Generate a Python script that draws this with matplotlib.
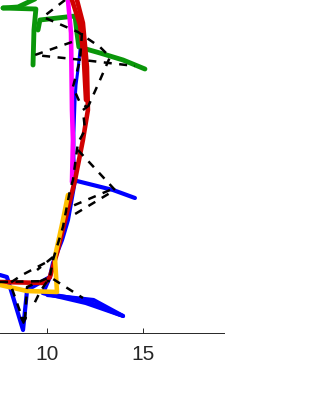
import matplotlib
matplotlib.use("Agg")
from matplotlib import pyplot as plt

plt.rcParams['font.family'] = ['Liberation Sans', 'DejaVu Sans']

# x is in the axis units, y is plain height above the axis (no y scale shown)
green_x = [[7.69, 8.47, 9.35], [7.69, 9.40, 9.30, 9.25], [9.51, 9.61, 11.44, 11.54, 11.64, 12.74, 13.94, 15.08]]
green_y = [[325, 326, 334], [325, 324, 303, 268], [303, 313, 317, 300, 286, 280, 273, 264]]

magenta_x = [11.07, 11.23, 11.28, 11.33, 11.28]
magenta_y = [333, 300, 223, 193, 151]

red_x = [[11.54, 11.85, 12.06, 12.11, 11.85, 11.44, 10.50, 10.13, 9.87, 7.53],
         [11.28, 11.70, 11.90, 12.01]]
red_y = [[333, 310, 266, 223, 193, 153, 80, 56, 50, 51],
         [333, 308, 273, 233]]

blue_thin_x = [11.70, 11.59, 11.49, 11.44, 11.38, 11.38, 11.44]
blue_thin_y = [283, 263, 248, 233, 200, 175, 153]

blue_x = [[11.44, 11.07, 10.76, 10.29, 10.13, 9.77, 11.85, 13.94],
          [7.53, 7.89, 8.21, 8.73, 8.94, 10.13],
          [11.33, 13.42, 14.56],
          [9.77, 12.00, 13.80],
          [10.00, 12.40, 13.94]]
blue_y = [[153, 113, 93, 70, 56, 40, 33, 17],
          [58, 56, 36, 3, 43, 56],
          [153, 143, 135],
          [40, 30, 18],
          [38, 33, 17]]

yellow_x = [11.07, 10.81, 10.39, 10.50, 8.94, 7.53]
yellow_y = [138, 113, 76, 41, 42, 48]

dash_x = [[10.92, 9.77, 11.59, 12.74, 13.26, 12.74, 12.11],
          [11.28, 9.35, 11.85, 14.56],
          [11.80, 11.70, 11.33, 11.70, 12.06, 11.85, 11.96, 11.59, 11.33, 11.18, 10.81, 10.29, 10.13, 9.61, 9.20],
          [11.59, 13.52, 11.18],
          [13.26, 11.18],
          [10.29, 9.46],
          [9.87, 8.68, 8.05, 8.73],
          [8.83, 8.94, 10.13, 11.85],
          [7.53, 10.13]]
dash_y = [[333, 316, 301, 286, 276, 253, 226],
          [291, 278, 273, 267],
          [300, 273, 246, 230, 226, 223, 203, 190, 153, 143, 106, 73, 56, 41, 25],
          [183, 143, 116],
          [143, 126],
          [76, 63],
          [70, 58, 50, 13],
          [13, 46, 56, 35],
          [51, 52]]

tick_pos = [10, 15]


def draw_group(ax, xs, ys, color, lw):
    for x, y in zip(xs, ys):
        ax.plot(x, y, color=color, lw=lw, solid_joinstyle='round', solid_capstyle='round')


fig = plt.figure(figsize=(3.15, 4.2), dpi=100)
ax = fig.add_axes([0, 87 / 420, 224 / 315, 333 / 420])

draw_group(ax, green_x, green_y, '#0a960a', 3.5)
draw_group(ax, [blue_thin_x], [blue_thin_y], '#0000ff', 2.2)
draw_group(ax, blue_x, blue_y, '#0000ff', 3.0)
draw_group(ax, [magenta_x], [magenta_y], '#ff00ff', 3.3)
draw_group(ax, red_x, red_y, '#d00000', 3.3)
draw_group(ax, [yellow_x], [yellow_y], '#ffc000', 3.3)

for x, y in zip(dash_x, dash_y):
    ax.plot(x, y, color='black', lw=1.8, ls=(0, (3.2, 3.0)))
ax.plot([8.73], [13], marker='v', color='black', ms=5)

ax.set_xlim(7.53, 19.2)
ax.set_ylim(0, 333)
ax.set_xticks(tick_pos)
ax.set_yticks([])
ax.tick_params(axis='x', direction='in', length=3.5, width=0.7, color='#262626',
               labelcolor='#262626', labelsize=15, pad=9)
for side in ['top', 'right', 'left']:
    ax.spines[side].set_visible(False)
ax.spines['bottom'].set_color('#262626')
ax.spines['bottom'].set_linewidth(0.7)

fig.savefig('out.png', dpi=100)
